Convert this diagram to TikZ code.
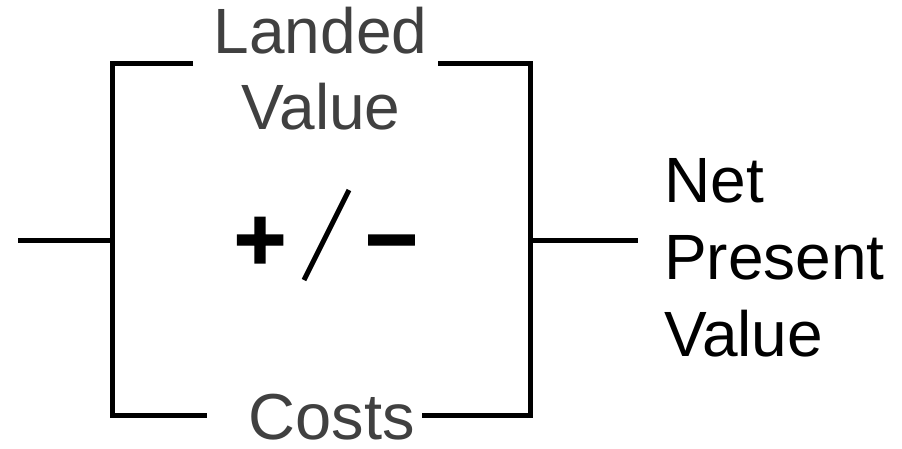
\documentclass[tikz,border=0pt]{standalone}
\usepackage{fontspec}
\setmainfont{Liberation Sans}
\newfontfamily\signfont{Liberation Sans Bold}[FakeBold=1.6]
\definecolor{lblgrey}{HTML}{404040}
\tikzset{
  wire/.style={line width=5pt, black, line join=miter},
  lbl/.style={inner sep=0pt, anchor=base, font=\fontsize{64}{77}\selectfont},
  sign/.style={inner sep=0pt, anchor=base, font=\fontsize{90}{100}\signfont}
}
\begin{document}
\begin{tikzpicture}[x=1pt,y=-1pt]
\useasboundingbox (0,0) rectangle (902,448);
% labels
\node[lbl, text=lblgrey] (landed) at (320.5,53) {Landed};
\node[lbl, text=lblgrey] (value1) at (321,129) {Value};
\node[lbl, text=lblgrey, font=\fontsize{65}{77}\selectfont] (costs) at (332,439) {Costs};
\node[lbl, anchor=base west] (net) at (664,202) {Net};
\node[lbl, anchor=base west] (present) at (664,279) {Present};
\node[lbl, anchor=base west] (value2) at (664,356) {Value};
\node[sign] (plus) at (260,270) {+};
\node[sign] (minus) at (391.5,270) {−};
% coordinates
\coordinate (in) at (18,240);
\coordinate (L) at (112,240);
\coordinate (TL) at (112,63);
\coordinate (BL) at (112,415);
\coordinate (TLe) at (193,63);
\coordinate (BLe) at (207,415);
\coordinate (TR) at (530,63);
\coordinate (BR) at (530,415);
\coordinate (TRs) at (438,63);
\coordinate (BRs) at (422,415);
\coordinate (R) at (530,240);
\coordinate (out) at (638,240);
\coordinate (slashA) at (304,280);
\coordinate (slashB) at (349,190);
% wires
\draw[wire] (in) -- (L);
\draw[wire] (TLe) -- (TL) -- (BL) -- (BLe);
\draw[wire] (TRs) -- (TR) -- (BR) -- (BRs);
\draw[wire] (R) -- (out);
\draw[line width=5pt] (slashA) -- (slashB);
\end{tikzpicture}
\end{document}
